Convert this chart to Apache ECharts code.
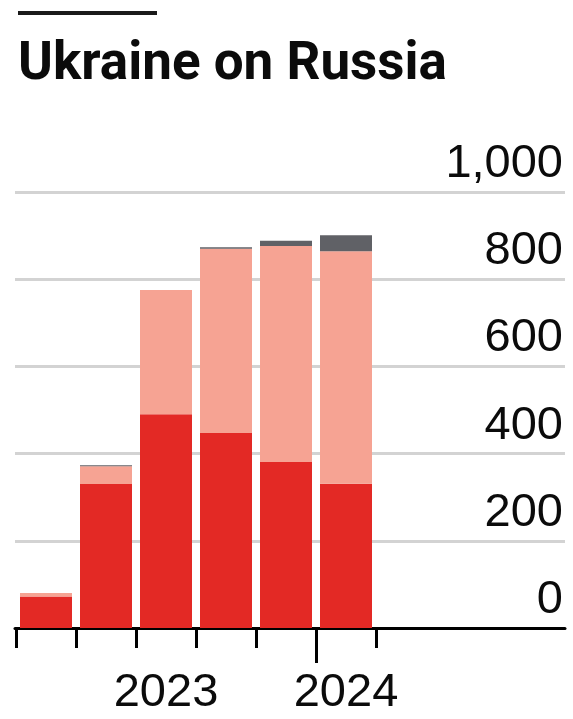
<!DOCTYPE html>
<html>
<head>
<meta charset="utf-8">
<script src="https://cdn.jsdelivr.net/npm/echarts@6/dist/echarts.min.js"></script>
<style>
html,body{margin:0;padding:0;background:#fff;}
#c{width:573px;height:719px;}
</style>
</head>
<body>
<div id="c"></div>
<script>
const categories = ['P1', 'P2', 'P3', 'P4', 'P5', 'P6'];
const xTickLabels = ['', '', '2023', '', '', '2024'];
const boundaries = ['b0', 'b1', 'b2', 'b3', 'b4', 'b5', 'b6'];
const seriesRed = [72, 330, 490, 447, 381, 331];
const seriesPink = [8, 41, 285, 423, 495, 533];
const seriesGrey = [0, 2, 0, 3, 12, 37];
const yTickValues = [0, 200, 400, 600, 800, 1000];
const yTickLabels = ['0', '200', '400', '600', '800', '1,000'];
const titleText = 'Ukraine on Russia';

const chart = echarts.init(document.getElementById('c'), null, {renderer: 'canvas'});
const labelFont = '"Liberation Sans", Arial, sans-serif';
const common = {top: 192, bottom: 91};

chart.setOption({
  animation: false,
  backgroundColor: '#ffffff',
  title: {
    text: titleText,
    left: 13,
    top: 34,
    textStyle: {fontFamily: 'Roboto, "Liberation Sans", sans-serif', fontWeight: 'bold', fontSize: 53, color: '#0b0b0b'}
  },
  graphic: [{
    type: 'rect', shape: {x: 18, y: 11, width: 139, height: 4}, style: {fill: '#1a1a1a'}
  }],
  grid: [
    Object.assign({left: 15, right: 8}, common),
    Object.assign({left: 16, width: 360}, common)
  ],
  xAxis: [
    {
      gridIndex: 0, type: 'value', min: 0, max: 1,
      axisLine: {show: true, lineStyle: {color: '#000', width: 3}},
      axisTick: {show: false}, axisLabel: {show: false}, splitLine: {show: false}
    },
    {
      gridIndex: 1, type: 'category', data: categories, boundaryGap: true, position: 'bottom',
      axisLine: {show: false},
      axisTick: {show: true, length: 20, lineStyle: {color: '#000', width: 3}},
      axisLabel: {
        show: true, interval: 0, margin: 42,
        formatter: (v, i) => xTickLabels[i],
        fontFamily: labelFont, fontSize: 47, color: '#0b0b0b'
      }
    },
    {
      gridIndex: 1, type: 'category', data: boundaries, boundaryGap: false, position: 'bottom',
      axisLine: {show: false},
      axisTick: {show: true, length: 35, interval: (i) => i === 5, lineStyle: {color: '#000', width: 3}},
      axisLabel: {show: false}
    }
  ],
  yAxis: [
    {
      gridIndex: 0, type: 'value', min: 0, max: 1000, interval: 200, position: 'right',
      axisLine: {show: false}, axisTick: {show: false},
      splitLine: {show: true, lineStyle: {color: '#d3d3d3', width: 3}},
      axisLabel: {
        inside: true, margin: 2,
        formatter: (v) => yTickLabels[yTickValues.indexOf(v)],
        fontFamily: labelFont, fontSize: 47, color: '#0b0b0b',
        verticalAlign: 'bottom', lineHeight: 56
      }
    },
    {
      gridIndex: 1, type: 'value', min: 0, max: 1000, interval: 200, show: false
    }
  ],
  series: [
    {name: 'red', type: 'bar', stack: 's', xAxisIndex: 1, yAxisIndex: 1, data: seriesRed, barWidth: 52, itemStyle: {color: '#e32925'}},
    {name: 'pink', type: 'bar', stack: 's', xAxisIndex: 1, yAxisIndex: 1, data: seriesPink, barWidth: 52, itemStyle: {color: '#f6a393'}},
    {name: 'grey', type: 'bar', stack: 's', xAxisIndex: 1, yAxisIndex: 1, data: seriesGrey, barWidth: 52, itemStyle: {color: '#606166'}}
  ]
});
</script>
</body>
</html>
